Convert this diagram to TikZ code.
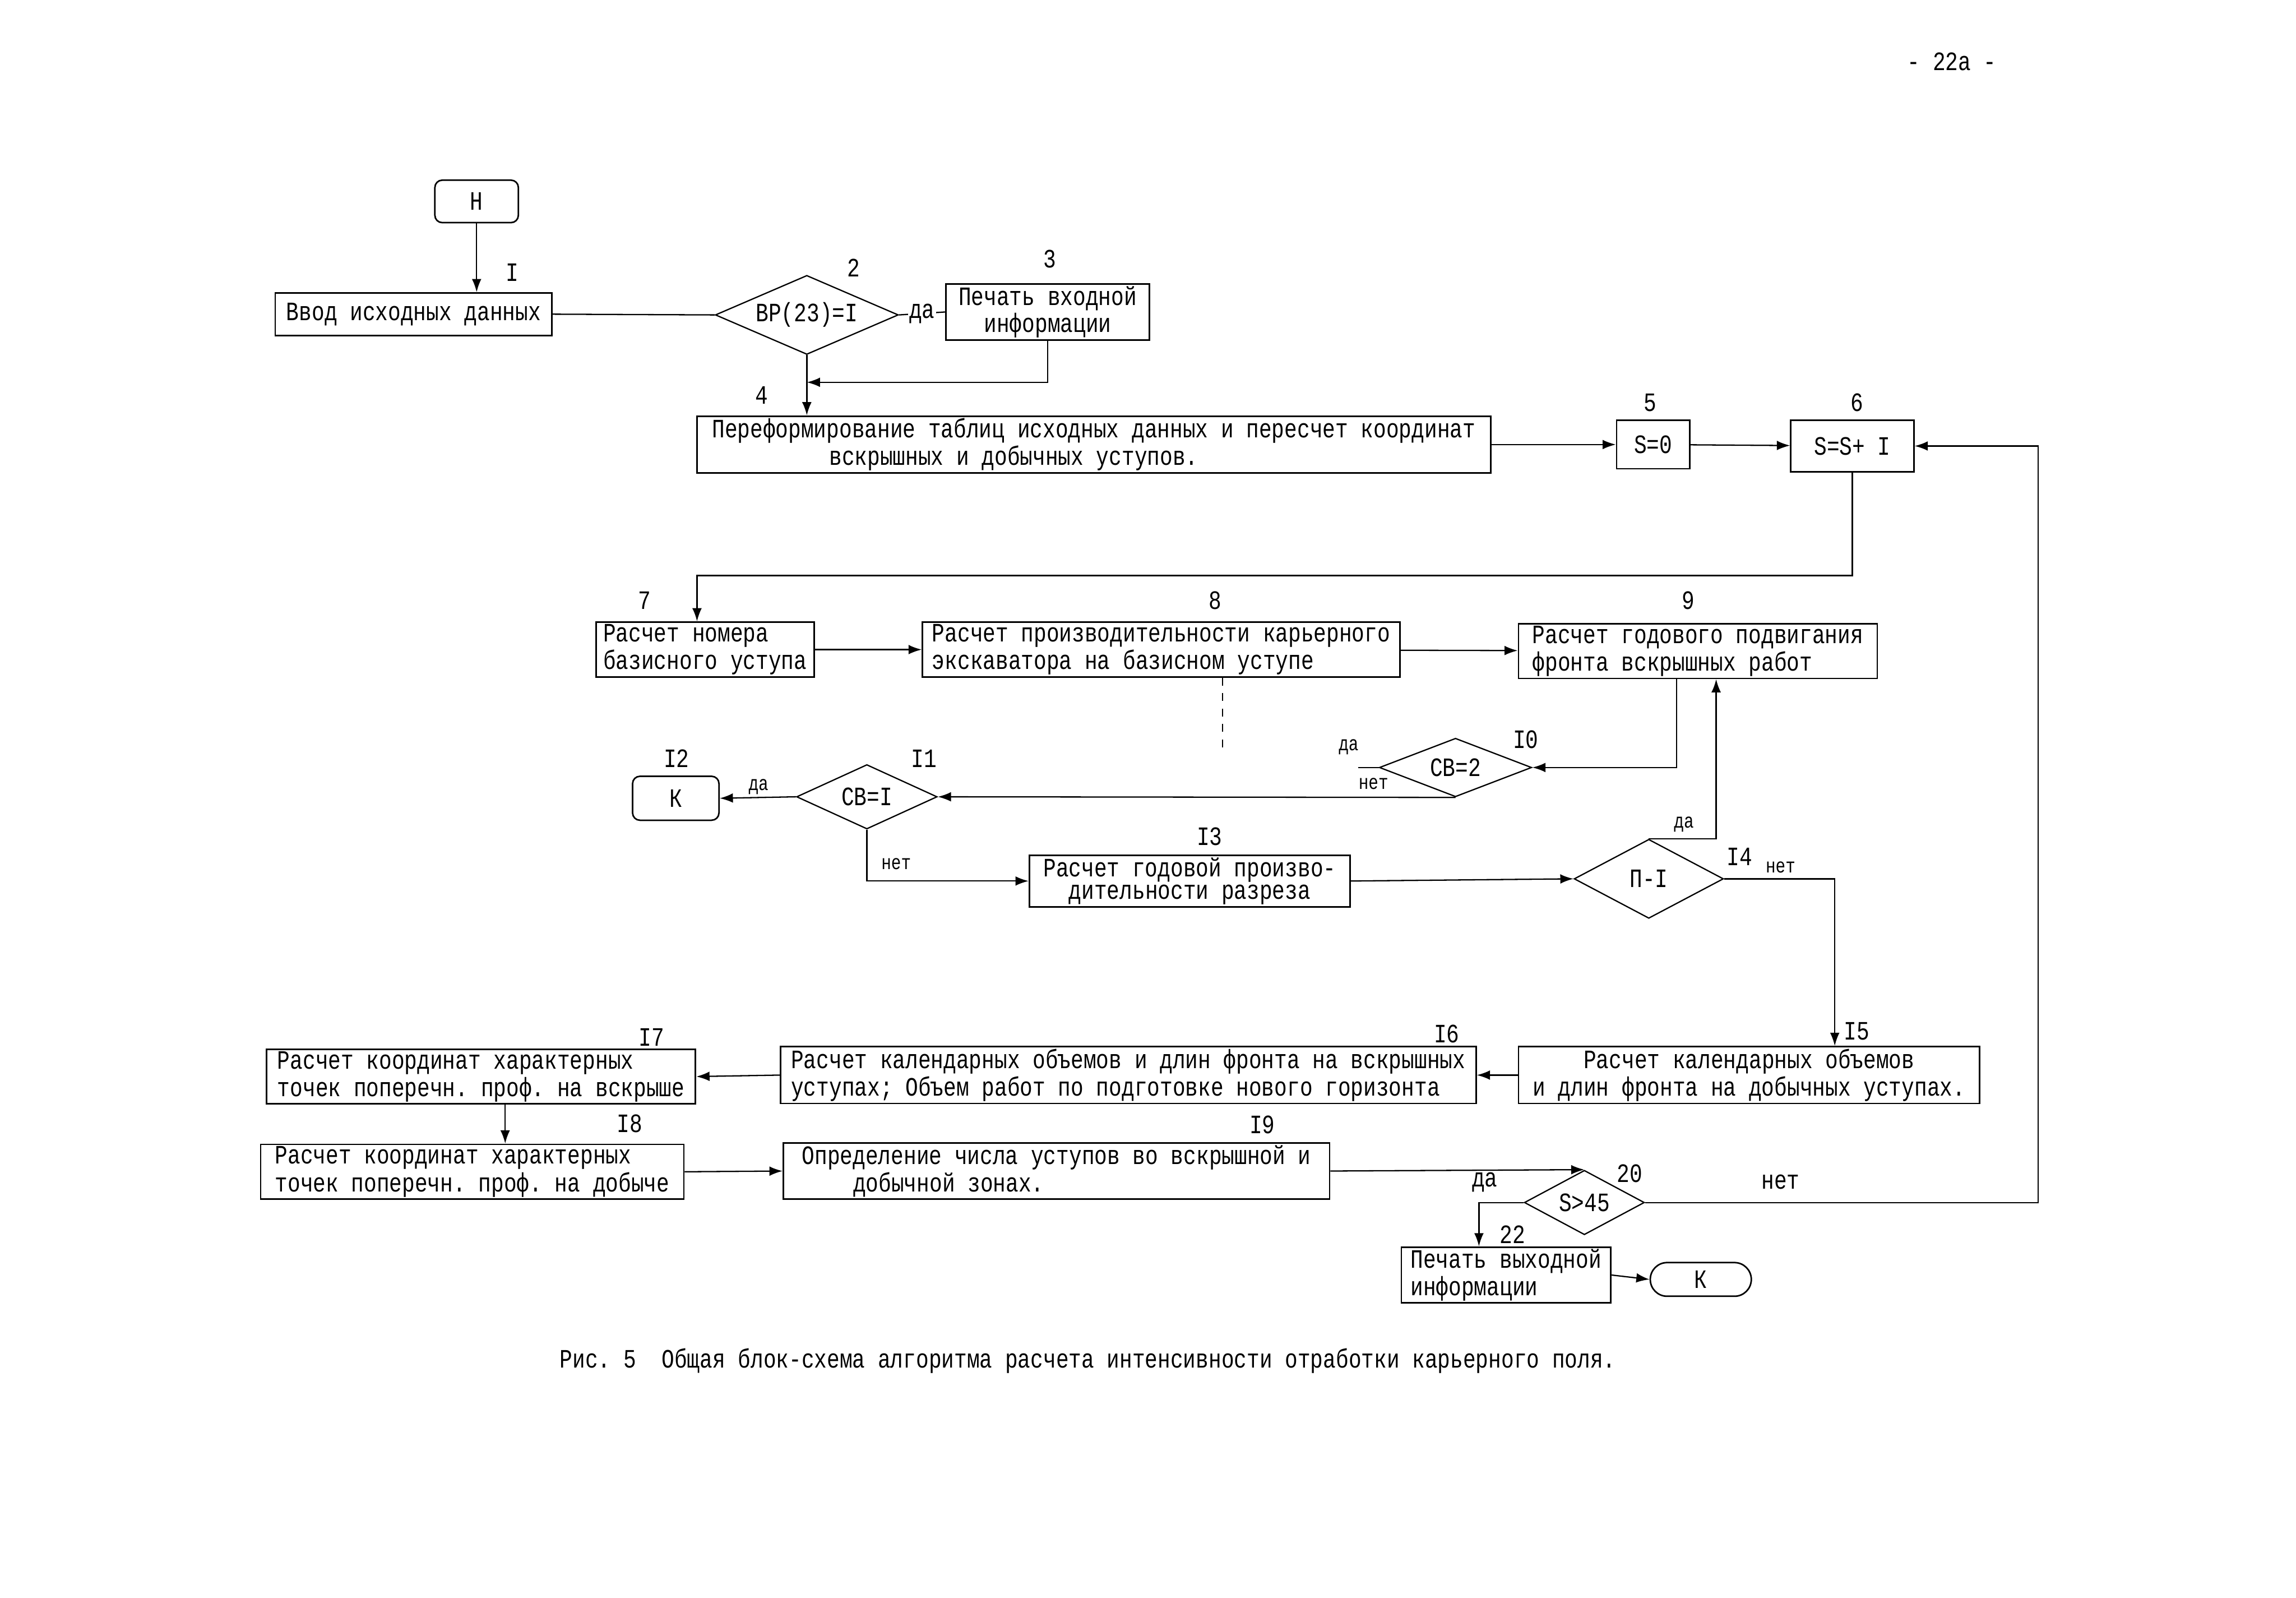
\documentclass[tikz,border=0pt]{standalone}
\usepackage{fontspec}
\usetikzlibrary{shapes.geometric,arrows.meta}
\newfontfamily\tw{Liberation Mono}[FakeStretch=0.8]
\newcommand\boxfont{\tw\fontsize{10.3}{8.8}\selectfont\frenchspacing}
\newcommand\handfont{\tw\fontsize{8}{8}\selectfont}

\begin{document}
\begin{tikzpicture}[x=0.2mm, y=-0.2mm,
    box/.style={draw, line width=0.6pt, inner xsep=0.6mm, inner ysep=0.3mm, font=\boxfont, align=left},
    term/.style={box, rounded corners=1mm, align=center},
    cond/.style={draw, diamond, line width=0.5pt, inner sep=0pt, aspect=2, font=\boxfont},
    num/.style={font=\boxfont},
    hand/.style={font=\handfont},
    wire/.style={line width=0.5pt},
    arr/.style={wire, -{Latex[length=1.8mm, width=1.3mm]}}]
\useasboundingbox (0,0) rectangle (1568,1091);

\node[num] (page) at (1333,42) {- 22a -};

% blocks
\node[term, minimum width=11.4mm, minimum height=5.8mm] (H) at (325.5,137.5) {Н};
\node[box, minimum width=37.8mm, minimum height=5.8mm] (b1) at (282.5,214.5) {Ввод исходных данных};
\node[cond, minimum width=25mm, minimum height=10.8mm] (d2) at (551,215) {ВР(23)=I};
\node[box, align=center, minimum width=27.8mm, minimum height=7.6mm] (b3) at (715.5,213) {Печать входной\\информации};
\node[box, minimum width=108.4mm, minimum height=6.6mm] (b4) at (747,303.5) {Переформирование таблиц исходных данных и пересчет координат\\\hspace*{16mm}вскрышных и добычных уступов.};
\node[box, align=center, minimum width=10mm, minimum height=6.6mm] (b5) at (1129,303.5) {S=0};
\node[box, align=center, minimum width=16.8mm, minimum height=7mm] (b6) at (1265,304.5) {S=S+ I};
\node[box, minimum width=29.8mm, minimum height=7.4mm] (b7) at (481.5,443.5) {Расчет номера\\базисного уступа};
\node[box, minimum width=65.2mm, minimum height=7.4mm] (b8) at (793,443.5) {Расчет производительности карьерного\\экскаватора на базисном уступе};
\node[box, minimum width=49mm, minimum height=7mm] (b9) at (1159.5,444.5) {Расчет годового подвигания\\фронта вскрышных работ};
\node[cond, minimum width=20.8mm, minimum height=8mm] (d10) at (994,524) {СВ=2};
\node[cond, minimum width=19.2mm, minimum height=8.8mm] (d11) at (592,544) {СВ=I};
\node[term, minimum width=11.8mm, minimum height=6mm] (k12) at (461.5,545) {К};
\node[box, align=center, minimum width=43.8mm, minimum height=6.6mm] (b13) at (812.5,601.5) {Расчет годовой произво-\\дительности разреза};
\node[cond, minimum width=20.4mm, minimum height=10.8mm] (d14) at (1126,600) {П-I};
\node[box, align=center, minimum width=63mm, minimum height=6.4mm] (b15) at (1194.5,734) {Расчет календарных объемов\\и длин фронта на добычных уступах.};
\node[box, minimum width=95mm, minimum height=6.4mm] (b16) at (770.5,734) {Расчет календарных объемов и длин фронта на вскрышных\\уступах; Объем работ по подготовке нового горизонта};
\node[box, minimum width=58.6mm, minimum height=6.8mm] (b17) at (328.5,735) {Расчет координат характерных\\точек поперечн. проф. на вскрыше};
\node[box, minimum width=57.8mm, minimum height=6.8mm] (b18) at (322.5,800) {Расчет координат характерных\\точек поперечн. проф. на добыче};
\node[box, minimum width=74.6mm, minimum height=7mm] (b19) at (721.5,799.5) {Определение числа уступов во вскрышной и\\\hspace*{7mm}добычной зонах.};
\node[cond, minimum width=16.4mm, minimum height=8.8mm] (d20) at (1082,821) {S>45};
\node[box, minimum width=28.6mm, minimum height=6.2mm] (b22) at (1028.5,870.5) {Печать выходной\\информации};
\node[term, rounded corners=2.3mm, minimum width=13.8mm, minimum height=4.6mm] (k21) at (1161.5,873.5) {К};

% block numbers
\node[num] (n1) at (350,186) {I};
\node[num] (n2) at (583,183) {2};
\node[num] (n3) at (717,177) {3};
\node[num] (n4) at (520,270) {4};
\node[num] (n5) at (1127,275) {5};
\node[num] (n6) at (1268,275) {6};
\node[num] (n7) at (440,410) {7};
\node[num] (n8) at (830,410) {8};
\node[num] (n9) at (1153,410) {9};
\node[num] (n10) at (1042,505) {I0};
\node[num] (n11) at (631,518) {I1};
\node[num] (n12) at (462,518) {I2};
\node[num] (n13) at (826,571) {I3};
\node[num] (n14) at (1188,585) {I4};
\node[num] (n15) at (1268,704) {I5};
\node[num] (n16) at (988,706) {I6};
\node[num] (n17) at (445,708) {I7};
\node[num] (n18) at (430,767) {I8};
\node[num] (n19) at (862,768) {I9};
\node[num] (n20) at (1113,801) {20};
\node[num] (n22) at (1033,843) {22};

% branch marks
\node[hand] (y10) at (921,510) {да};
\node[hand] (f10) at (938,535) {нет};
\node[hand] (y11) at (518,537) {да};
\node[hand] (f11) at (612,590) {нет};
\node[hand] (y14) at (1150,563) {да};
\node[hand] (f14) at (1216,592) {нет};
\node[num] (y20) at (1014,807) {да};
\node[num] (f20) at (1216,807) {нет};

% connectors
\coordinate (j4) at (551,261);
\coordinate (k7) at (476,393);
\coordinate (v8) at (835,0);
\coordinate (v9) at (1145,0);
\coordinate (v14) at (1172,0);
\coordinate (v15) at (1253,0);
\coordinate (v17) at (345,0);
\coordinate (v20) at (1392,0);
\coordinate (v22) at (1010,0);

\draw[arr] (H.south) -- (H.south |- b1.north);
\draw[wire] (b1.east) -- (d2.west);
\draw[wire] (d2.east) -- node[fill=white, inner sep=0.5pt, font=\boxfont] {да} (b3.west);
\draw[arr] (b3.south) |- (j4);
\draw[arr] (d2.south) -- (d2.south |- b4.north);
\draw[arr] (b4) -- (b5);
\draw[arr] (b5) -- (b6);
\draw[arr] (b6.south) |- (k7) -- (k7 |- b7.north);
\draw[arr] (b7) -- (b8);
\draw[arr] (b8) -- (b9);
\draw[wire, dashed] (b8.south -| v8) -- ++(0,50);
\draw[arr] (b9.south -| v9) |- (d10.east);
\draw[arr] (d14.north) -| (b9.south -| v14);
\draw[wire] (d10.west) -- ++(-14,0);
\draw[arr] (d10.south) -- (d11.east);
\draw[arr] (d11.west) -- (k12.east);
\draw[arr] (d11.south) |- (b13.west);
\draw[arr] (b13.east) -- (d14.west);
\draw[arr] (d14.east) -| (b15.north -| v15);
\draw[arr] (b15.west) -- (b16.east);
\draw[arr] (b16.west) -- (b17.east);
\draw[arr] (b17.south -| v17) -- (b18.north -| v17);
\draw[arr] (b18.east) -- (b19.west);
\draw[arr] (b19.east) -- (d20.north);
\draw[arr] (d20.east) -| (b6.east -| v20) -- (b6.east);
\draw[arr] (d20.west) -| (b22.north -| v22);
\draw[arr] (b22.east) -- (k21.west);

\node[num] (cap) at (743,929) {Рис.~5~~Общая блок-схема алгоритма расчета интенсивности отработки карьерного поля.};
\end{tikzpicture}
\end{document}
